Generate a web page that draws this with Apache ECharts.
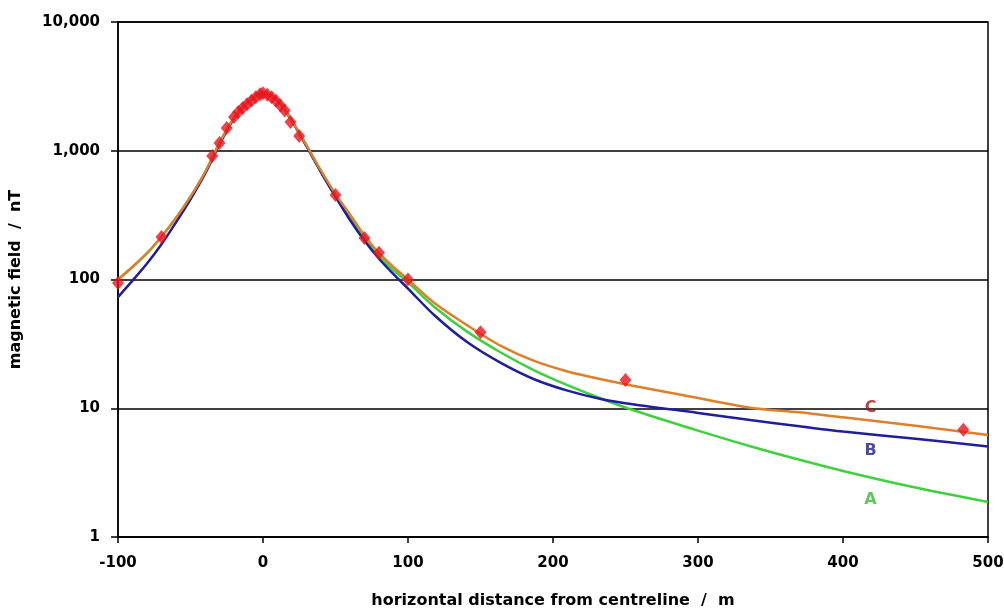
<!DOCTYPE html>
<html><head><meta charset="utf-8">
<script src="https://cdn.jsdelivr.net/npm/echarts@6/dist/echarts.min.js"></script>
<style>html,body{margin:0;padding:0;background:#fff}#c{width:1004px;height:610px}</style>
</head><body><div id="c"></div>
<script>
const curveX = [-100,-90,-80,-70,-60,-50,-40,-30,-20,-10,0,10,20,30,40,50,60,70,80,90,100,118,141,164,187,210,233,256,300,336,370,400,450,500];
const curveC = [100,125,160,215,300,440,680,1150,1800,2400,2800,2450,1700,1100,700,460,320,220,160,125,100,66,44,30.5,23.3,19.3,16.8,14.9,12.0,10.1,9.3,8.5,7.3,6.2];
const curveB = [73,98,133,188,278,420,660,1120,1780,2400,2800,2450,1700,1080,680,440,290,200,145,110,85,53,32.5,22.5,16.8,13.7,11.8,10.7,9.2,8.1,7.25,6.6,5.8,5.05];
const curveA = [100,125,160,215,300,440,680,1150,1800,2400,2800,2450,1700,1095,690,450,305,210,152,118,95,61.5,39.2,27.1,19.7,15.1,11.9,9.6,6.7,5.07,3.98,3.26,2.42,1.87];
const measX = [-100,-70,-35,-30,-25,-20,-17,-14,-11,-8,-5,-2,0,3,6,9,12,15,19,25,50,70,80,100,150,250,483];
const measY = [94,214,910,1150,1500,1830,2000,2150,2300,2450,2600,2750,2800,2720,2600,2450,2250,2050,1670,1300,453,210,161,100,39,16.6,6.8];
const labelNames = ['C','B','A'];
const labelX = [419,419,419];
const labelY = [10,4.7,1.94];
const labelColors = ['#A01818','#1C1C9A','#33BB33'];
const xTicks = {min:-100,max:500,interval:100};
const yTicks = {min:1,max:10000};

const pair = (xs, ys) => xs.map((x,i)=>[x, ys[i]]);
const font = '"DejaVu Sans", "Liberation Sans", Arial, sans-serif';
const chart = echarts.init(document.getElementById('c'));
chart.setOption({
  animation:false,
  backgroundColor:'#fff',
  grid:{left:118,right:16,top:22,bottom:73,show:true,borderColor:'#000',borderWidth:1.5,backgroundColor:'transparent',
    outerBoundsMode:'none',containLabel:false},
  xAxis:{type:'value',min:xTicks.min,max:xTicks.max,interval:xTicks.interval,
    axisLine:{show:true,onZero:false,lineStyle:{color:'#000',width:1.5}},
    axisTick:{show:true,length:6,lineStyle:{color:'#000',width:1.5}},
    splitLine:{show:false},
    axisLabel:{color:'#000',fontFamily:font,fontWeight:'bold',fontSize:15,margin:19},
    name:'horizontal distance from centreline  /  m',nameLocation:'middle',nameGap:56,
    nameTextStyle:{color:'#000',fontFamily:font,fontWeight:'bold',fontSize:16}},
  yAxis:{type:'log',logBase:10,min:yTicks.min,max:yTicks.max,
    axisLine:{show:true,onZero:false,lineStyle:{color:'#000',width:1.5}},
    axisTick:{show:true,length:7,lineStyle:{color:'#000',width:1.5}},
    minorTick:{show:false},
    splitLine:{show:true,lineStyle:{color:'#000',width:1.5}},
    axisLabel:{color:'#000',fontFamily:font,fontWeight:'bold',fontSize:15,margin:18,
      formatter:v=>Math.round(v).toLocaleString('en-US')},
    name:'magnetic field  /  nT',nameLocation:'middle',nameGap:94,
    nameTextStyle:{color:'#000',fontFamily:font,fontWeight:'bold',fontSize:16}},
  series:[
    {type:'line',data:pair(curveX,curveA),smooth:0.3,symbol:'none',lineStyle:{color:'#3DD23D',width:2.5},z:2},
    {type:'line',data:pair(curveX,curveB),smooth:0.3,symbol:'none',lineStyle:{color:'#1E1E9E',width:2.5},z:3},
    {type:'line',data:pair(curveX,curveC),smooth:0.3,symbol:'none',lineStyle:{color:'#E07F2A',width:2.5},z:4},
    {type:'scatter',data:pair(measX,measY),symbol:'diamond',symbolSize:[12,14],itemStyle:{color:'#E8141E'},z:5},
    {type:'scatter',symbolSize:0,z:6,
      data:labelNames.map((n,i)=>({value:[labelX[i],labelY[i]],name:n,
        label:{show:true,position:'inside',formatter:n,color:labelColors[i],fontFamily:font,fontWeight:'bold',fontSize:16}}))}
  ]
});
</script></body></html>
